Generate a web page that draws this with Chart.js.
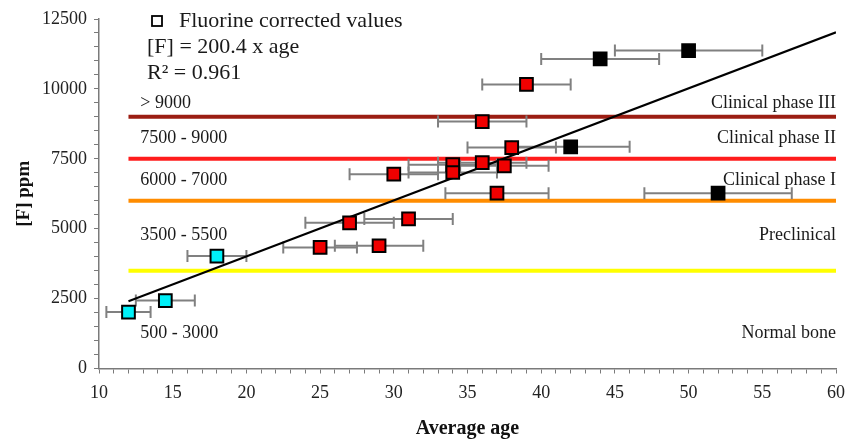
<!DOCTYPE html>
<html>
<head>
<meta charset="utf-8">
<script src="https://cdn.jsdelivr.net/npm/chart.js@4.4.0/dist/chart.umd.min.js"></script>
<style>
  html, body { margin: 0; padding: 0; background: #fff; }
</style>
</head>
<body>
<canvas id="fluorChart" width="847" height="439"></canvas>
<script>
// fluorine content against average age, split by marker colour
var cyanAge = [12, 14.5, 18];
var cyanF = [2020, 2430, 4020];
var cyanErr = [1.5, 2, 2];

var redAge = [25, 27, 29, 30, 31, 34, 34, 36, 36, 37, 37.5, 38, 39];
var redF = [4330, 5210, 4390, 6950, 5350, 7290, 7010, 7360, 8830, 6270, 7250, 7900, 10160];
var redErr = [2.5, 3, 3, 3, 3, 3, 3, 3, 3, 3.5, 3, 3, 3];

var blackAge = [42, 44, 50, 52];
var blackF = [7930, 11070, 11370, 6270];
var blackErr = [4, 4, 5, 5];

// linear fit through the origin: [F] = 200.4 x age
var fitSlope = 200.4;
var fitR2 = 0.961;
var fitRange = [12, 60];

// stage thresholds in ppm
var levelValues = [9000, 7500, 6000, 3500];
var levelColors = ['#9b1d12', '#ff1c1c', '#ff8c00', '#ffff00'];
var levelRange = [12, 60];

// band captions (left: ppm range, right: stage)
var rangeLabels = ['> 9000', '7500 - 9000', '6000 - 7000', '3500 - 5500', '500 - 3000'];
var phaseLabels = ['Clinical phase III', 'Clinical phase II', 'Clinical phase I', 'Preclinical', 'Normal bone'];
var labelLevels = [9500, 8250, 6750, 4750, 1270];

var ageTicks = [10, 15, 20, 25, 30, 35, 40, 45, 50, 55, 60];
var ppmTicks = [0, 2500, 5000, 7500, 10000, 12500];

var SERIF = '"Liberation Serif", "Times New Roman", serif';
var AXIS_GREY = '#7a7a7a';
var BAR_GREY = '#808080';

function markerSet(ages, values, fill) {
    return {
        label: 'Fluorine corrected values',
        data: ages.map(function (a, i) { return { x: a, y: values[i] }; }),
        showLine: false,
        pointStyle: 'rect',
        pointRadius: 9,
        pointBackgroundColor: fill,
        pointBorderColor: '#000',
        pointBorderWidth: 2,
        order: 0
    };
}

function errorSets(ages, values, errs) {
    // one short line per sample, capped with rotated 'line' points
    return ages.map(function (a, i) {
        return {
            data: [{ x: a - errs[i], y: values[i] }, { x: a + errs[i], y: values[i] }],
            showLine: true,
            borderColor: BAR_GREY,
            borderWidth: 2,
            pointStyle: 'line',
            pointRotation: 90,
            pointRadius: 6,
            pointBorderColor: BAR_GREY,
            pointBorderWidth: 2,
            order: 2
        };
    });
}

var levelSets = levelValues.map(function (v, i) {
    return {
        data: levelRange.map(function (a) { return { x: a, y: v }; }),
        showLine: true,
        borderColor: levelColors[i],
        borderWidth: 4,
        pointRadius: 0,
        order: 3
    };
});

var fitSet = {
    data: fitRange.map(function (a) { return { x: a, y: fitSlope * a }; }),
    showLine: true,
    borderColor: '#000',
    borderWidth: 2,
    pointRadius: 0,
    order: 1
};

var datasets = []
    .concat(levelSets)
    .concat(errorSets(cyanAge, cyanF, cyanErr))
    .concat(errorSets(redAge, redF, redErr))
    .concat(errorSets(blackAge, blackF, blackErr))
    .concat([fitSet])
    .concat([markerSet(cyanAge, cyanF, '#00f0f8'), markerSet(redAge, redF, '#f00000'), markerSet(blackAge, blackF, '#000')]);

var notesPlugin = {
    id: 'notes',
    afterDatasetsDraw: function (chart) {
        var ctx = chart.ctx;
        var xs = chart.scales.x, ys = chart.scales.y;
        ctx.save();
        ctx.fillStyle = '#1a1a1a';
        ctx.textBaseline = 'middle';
        ctx.font = '18px ' + SERIF;
        labelLevels.forEach(function (lv, i) {
            var py = ys.getPixelForValue(lv);
            ctx.textAlign = 'left';
            ctx.fillText(rangeLabels[i], xs.getPixelForValue(12.8), py);
            ctx.textAlign = 'right';
            ctx.fillText(phaseLabels[i], xs.getPixelForValue(60), py);
        });

        // key + fit equation in the top left corner
        var left = chart.chartArea.left;
        ctx.font = '22px ' + SERIF;
        ctx.textAlign = 'left';
        ctx.strokeStyle = '#000';
        ctx.lineWidth = 1.8;
        ctx.strokeRect(left + 53, 16, 10, 10);
        ctx.fillText('Fluorine corrected values', left + 80, 21);
        ctx.fillText('[F] = ' + fitSlope + ' x age', left + 48, 47);
        ctx.fillText('R\u00b2 = ' + fitR2, left + 48, 73);
        ctx.restore();
    }
};

new Chart(document.getElementById('fluorChart').getContext('2d'), {
    type: 'scatter',
    data: { datasets: datasets },
    options: {
        responsive: false,
        animation: false,
        events: [],
        layout: { padding: { top: 19, right: 11, left: 0, bottom: 0 } },
        plugins: { legend: { display: false }, tooltip: { enabled: false } },
        scales: {
            x: {
                type: 'linear',
                min: 10,
                max: 60,
                afterFit: function (s) {
                    s.height = 70.5;
                    s.paddingLeft = 0;
                    s.paddingRight = 0;
                },
                ticks: {
                    stepSize: 1,
                    autoSkip: false,
                    maxRotation: 0,
                    padding: 9,
                    color: '#222',
                    font: { family: SERIF, size: 18 },
                    callback: function (v) { return ageTicks.indexOf(v) >= 0 ? v : ''; }
                },
                grid: { drawOnChartArea: false, tickLength: 5, color: AXIS_GREY },
                border: { color: AXIS_GREY, width: 1.5 },
                title: {
                    display: true,
                    text: 'Average age',
                    color: '#111',
                    padding: { top: 0, bottom: 0 },
                    font: { family: SERIF, size: 20, weight: 'bold', lineHeight: 1 }
                }
            },
            y: {
                type: 'linear',
                min: 0,
                max: 12500,
                afterFit: function (s) { s.width = 99; },
                ticks: {
                    stepSize: 500,
                    autoSkip: false,
                    padding: 7,
                    color: '#222',
                    font: { family: SERIF, size: 18 },
                    callback: function (v) { return ppmTicks.indexOf(v) >= 0 ? v : ''; }
                },
                grid: { drawOnChartArea: false, tickLength: 5, color: AXIS_GREY },
                border: { color: AXIS_GREY, width: 1.5 },
                title: {
                    display: true,
                    text: '[F] ppm',
                    color: '#111',
                    padding: { top: 13, bottom: 0 },
                    font: { family: SERIF, size: 19, weight: 'bold' }
                }
            }
        }
    },
    plugins: [notesPlugin]
});
</script>
</body>
</html>
